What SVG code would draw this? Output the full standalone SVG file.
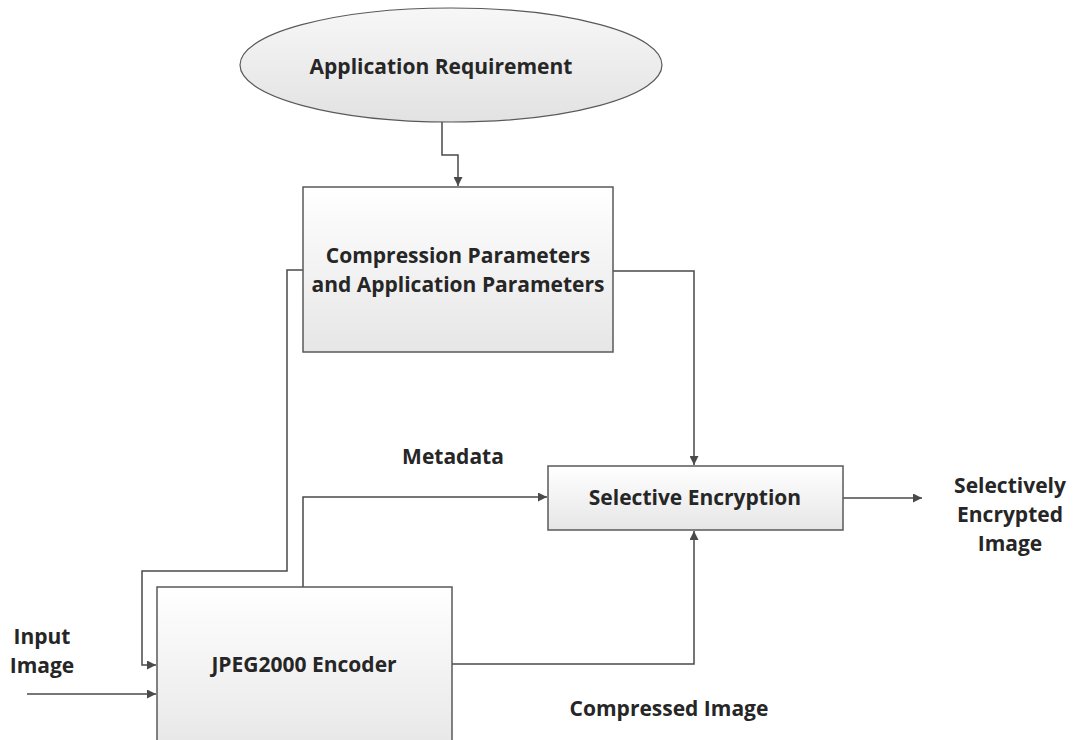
<svg xmlns="http://www.w3.org/2000/svg" width="1077" height="740" viewBox="0 0 1077 740">
<style>
.node{stroke:#595959;stroke-width:1.5;fill:url(#g)}
.ell{stroke:#595959;stroke-width:1.2;fill:url(#ge)}
.t{font-family:"Open Sans",Lato,sans-serif;font-weight:bold;font-size:21px;fill:#262626;text-anchor:middle}
.c{fill:none;stroke:#4a4a4a;stroke-width:1.5}
</style>
<defs>
<linearGradient id="g" x1="0" y1="0" x2="0" y2="1"><stop offset="0" stop-color="#ffffff"/><stop offset="1" stop-color="#e6e6e6"/></linearGradient>
<linearGradient id="ge" x1="0" y1="0" x2="0" y2="1"><stop offset="0" stop-color="#f7f7f7"/><stop offset="1" stop-color="#e2e2e2"/></linearGradient>
<marker id="a" viewBox="0 0 10 10" refX="10" refY="5" markerWidth="10" markerHeight="9" markerUnits="userSpaceOnUse" orient="auto"><path d="M0,0 L10,5 L0,10 z" fill="#4a4a4a"/></marker>
</defs>
<rect width="1077" height="740" fill="#fff"/>
<g id="connectors">
<path class="c" d="M442,122 V155 H458 V186" marker-end="url(#a)"/>
<path class="c" d="M303,270 H287 V571 H142 V665 H156" marker-end="url(#a)"/>
<path class="c" d="M27,694 H156" marker-end="url(#a)"/>
<path class="c" d="M303,587 V497 H547" marker-end="url(#a)"/>
<path class="c" d="M613,271 H694 V465" marker-end="url(#a)"/>
<path class="c" d="M452,664 H694 V531" marker-end="url(#a)"/>
<path class="c" d="M843,498 H922" marker-end="url(#a)"/>
</g>
<g id="app-req">
<ellipse class="ell" cx="451" cy="65" rx="211" ry="57"/>
<text class="t" x="441" y="74">Application Requirement</text>
</g>
<g id="params">
<rect class="node" x="303" y="187" width="310" height="165"/>
<text class="t" x="458" y="263">Compression Parameters</text>
<text class="t" x="458" y="292">and Application Parameters</text>
</g>
<g id="sel-enc">
<rect class="node" x="548" y="466" width="295" height="64"/>
<text class="t" x="695" y="505">Selective Encryption</text>
</g>
<g id="encoder">
<rect class="node" x="157" y="587" width="295" height="170"/>
<text class="t" x="304" y="672">JPEG2000 Encoder</text>
</g>
<g id="labels">
<text class="t" x="453" y="464">Metadata</text>
<text class="t" x="669" y="716">Compressed Image</text>
<text class="t" x="42" y="644">Input</text>
<text class="t" x="42" y="673">Image</text>
<text class="t" x="1010" y="493">Selectively</text>
<text class="t" x="1010" y="522">Encrypted</text>
<text class="t" x="1010" y="551">Image</text>
</g>
</svg>
